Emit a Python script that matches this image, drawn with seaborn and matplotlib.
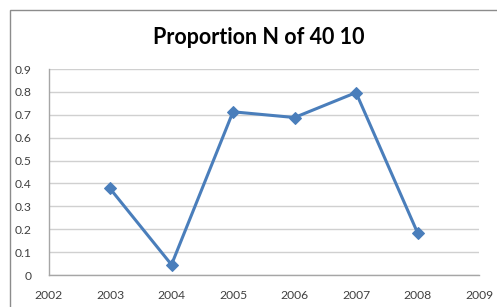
import matplotlib
matplotlib.use("Agg")
import matplotlib.pyplot as plt
import seaborn as sns
import pandas as pd
from matplotlib.patches import Rectangle

years = [2003, 2004, 2005, 2006, 2007, 2008]
proportion = [0.378, 0.045, 0.713, 0.688, 0.797, 0.185]
x_ticks = [2002, 2003, 2004, 2005, 2006, 2007, 2008, 2009]
y_ticks = [0, 0.1, 0.2, 0.3, 0.4, 0.5, 0.6, 0.7, 0.8, 0.9]

df = pd.DataFrame({"year": years, "proportion": proportion})

sns.set_style("white")
plt.rcParams["font.family"] = ["Lato", "DejaVu Sans"]

fig = plt.figure(figsize=(4.97, 3.07), dpi=100)
ax = fig.add_axes([48.5 / 497, 32 / 307, 430.5 / 497, 206 / 307])

# chart frame (Excel style, cut off on right and bottom)
fig.patches.append(Rectangle((9.5 / 497, -0.1), 1.2, (307 - 10) / 307 + 0.1,
                             transform=fig.transFigure, fill=False,
                             edgecolor="#8c8c8c", linewidth=1.0))

sns.lineplot(data=df, x="year", y="proportion", ax=ax, color="#4a7ebb",
             linewidth=2.2, marker="D", markersize=6.5, markeredgecolor="#4a7ebb")

ax.set_xlim(2002, 2009)
ax.set_ylim(0, 0.9)
ax.set_xticks(x_ticks)
ax.set_xticklabels([str(y) for y in x_ticks])
ax.set_yticks(y_ticks)
ax.set_yticklabels(["0" if v == 0 else f"{v:.1f}" for v in y_ticks])
ax.yaxis.grid(True, color="#d0d0d0", linewidth=1.0)
ax.xaxis.grid(False)
ax.set_axisbelow(True)
for side in ["top", "right"]:
    ax.spines[side].set_visible(False)
for side in ["left", "bottom"]:
    ax.spines[side].set_color("#a6a6a6")
    ax.spines[side].set_linewidth(1.0)
ax.tick_params(axis="both", which="major", direction="out", length=4, width=1,
               color="#a6a6a6", labelsize=8.7, labelcolor="#404040")
ax.tick_params(axis="x", pad=7)
ax.tick_params(axis="y", pad=8)
ax.set_xlabel("")
ax.set_ylabel("")

fig.text(259 / 497, 1 - 37 / 307, "Proportion N of 40 10", ha="center", va="center",
         fontsize=15.5, fontweight="bold", color="#000000")

fig.savefig("out.png", dpi=100)
